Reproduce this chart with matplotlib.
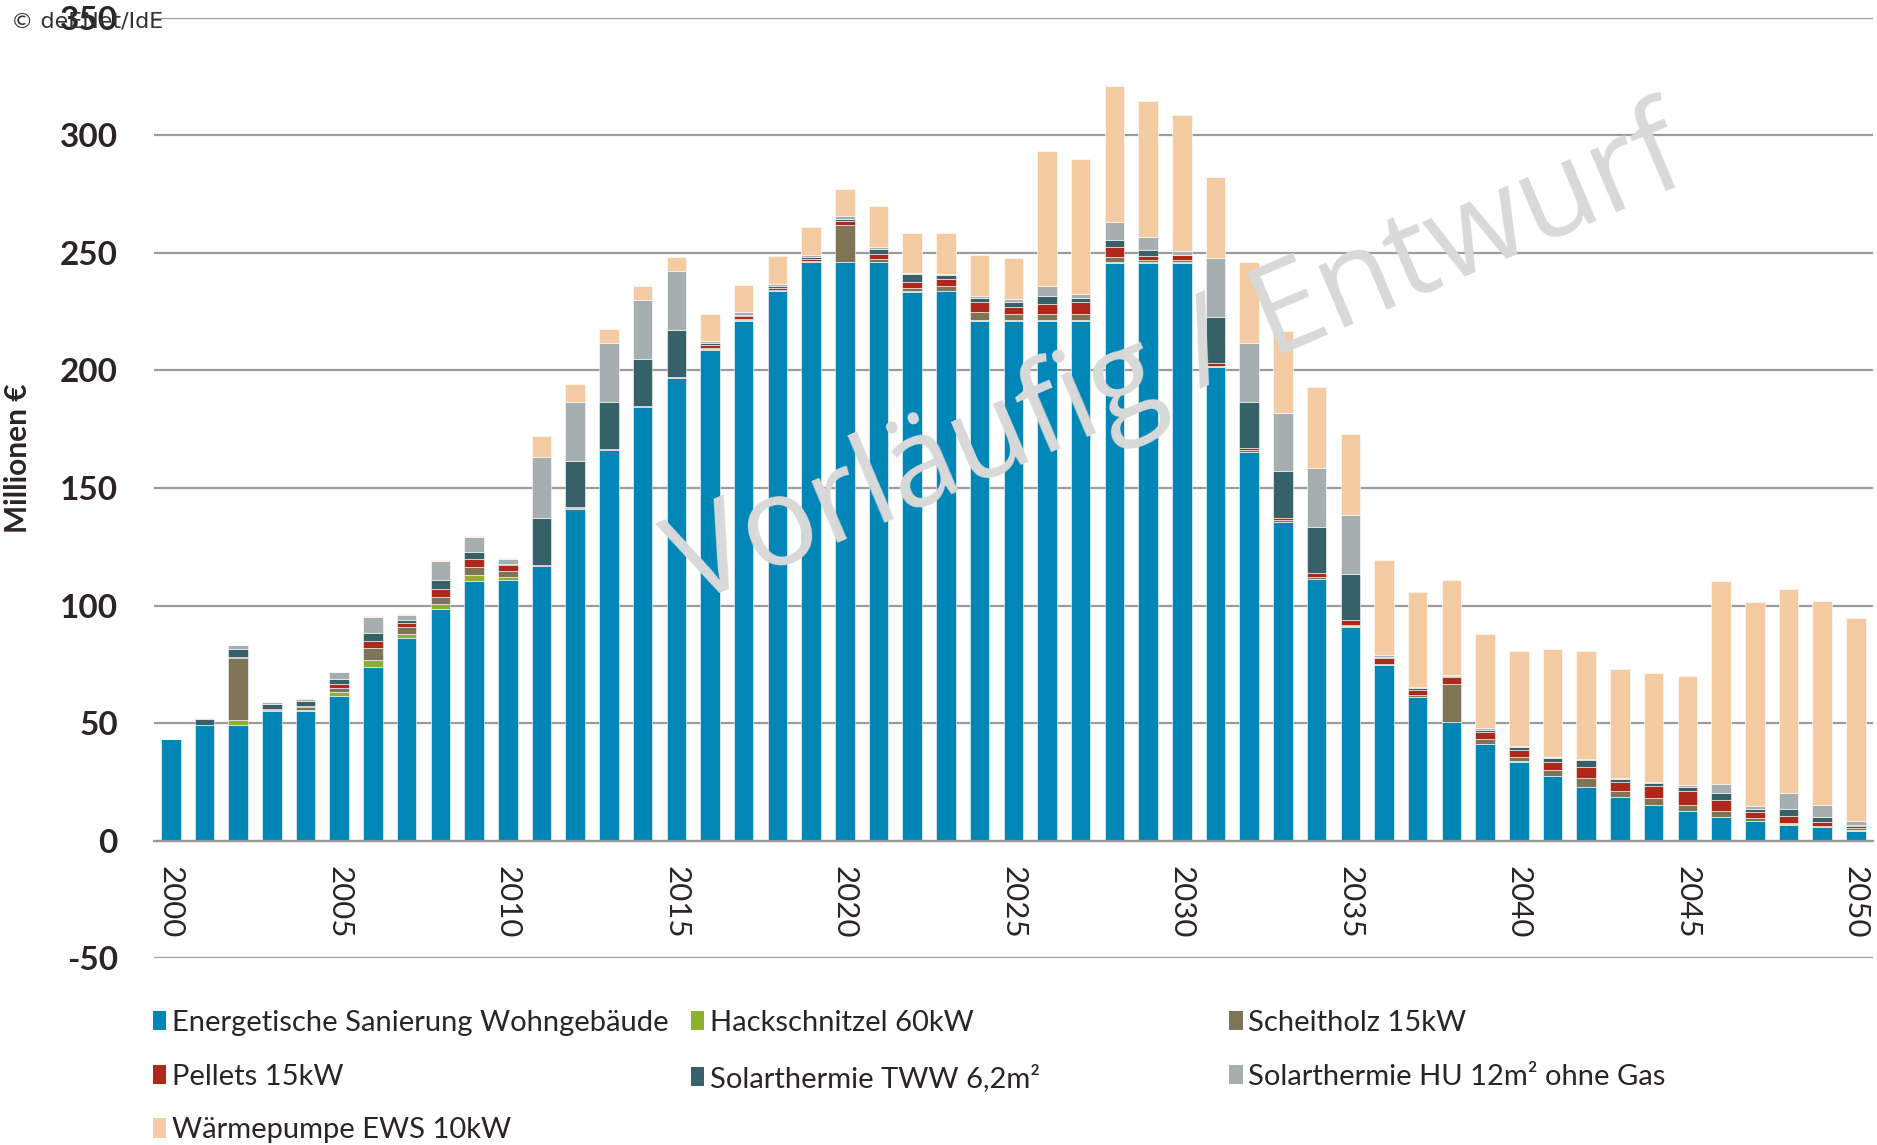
import matplotlib.pyplot as plt
import numpy as np
from matplotlib.patches import Patch

plt.rcParams["axes.unicode_minus"] = False

years = np.arange(2000, 2051)

sanierung = [43.0, 49.0, 49.0, 55.1, 55.1, 61.3, 73.7, 86.0, 98.3, 110.6,
             110.7, 116.7, 141.2, 166.0, 184.3, 196.8, 208.9, 221.2, 233.7, 246.0,
             246.1, 246.1, 233.5, 233.7, 221.1, 221.2, 221.2, 221.2, 245.9, 245.9,
             245.9, 201.6, 165.4, 135.6, 111.3, 91.0, 74.5, 61.0, 50.3, 41.0,
             33.6, 27.4, 22.8, 18.4, 15.0, 12.4, 10.1, 8.2, 6.8, 5.7,
             4.2]
hackschnitzel = [0.0, 0.0, 2.1, 0.0, 0.6, 1.7, 3.1, 2.0, 2.4, 2.4,
                 1.6, 0.0, 0.0, 0.0, 0.0, 0.0, 0.1, 0.1, 0.1, 0.1,
                 0.1, 0.2, 0.3, 0.2, 0.4, 0.3, 0.2, 0.2, 0.3, 0.1,
                 0.1, 0.1, 0.1, 0.1, 0.1, 0.1, 0.1, 0.1, 0.1, 0.1,
                 0.1, 0.1, 0.1, 0.1, 0.1, 0.1, 0.1, 0.1, 0.1, 0.1,
                 0.1]
scheitholz = [0.0, 0.2, 26.5, 0.6, 1.1, 2.1, 5.1, 3.0, 3.0, 3.4,
              2.4, 0.3, 0.3, 0.2, 0.2, 0.3, 0.7, 0.5, 0.3, 0.4,
              15.9, 1.1, 1.4, 2.1, 3.4, 2.4, 2.6, 2.8, 2.0, 0.9,
              0.9, 0.4, 0.5, 0.6, 0.7, 0.8, 0.7, 0.8, 16.4, 1.9,
              1.7, 2.6, 3.9, 2.5, 2.8, 2.8, 2.5, 1.4, 0.6, 0.5,
              0.9]
pellets = [0.0, 0.1, 0.7, 0.4, 0.4, 1.3, 3.1, 1.4, 3.3, 3.4,
           2.7, 0.3, 0.3, 0.2, 0.2, 0.3, 1.2, 1.2, 0.8, 1.0,
           1.4, 2.1, 2.4, 3.0, 4.4, 3.1, 4.5, 5.1, 4.3, 2.0,
           2.1, 1.0, 0.9, 1.0, 1.6, 2.0, 2.2, 2.0, 2.8, 3.3,
           3.3, 3.1, 4.6, 3.9, 5.4, 5.7, 4.6, 2.3, 2.9, 1.4,
           1.1]
solar_tww = [0.0, 2.4, 3.3, 1.8, 2.0, 2.4, 3.5, 1.3, 3.7, 2.8,
             0.2, 19.9, 19.9, 20.0, 20.2, 19.7, 0.7, 0.7, 1.0, 0.7,
             1.1, 2.3, 3.4, 1.6, 1.7, 2.0, 3.3, 1.4, 3.1, 2.4,
             0.3, 19.7, 19.9, 19.8, 19.7, 19.5, 0.8, 1.0, 0.3, 0.6,
             0.9, 1.7, 2.8, 1.4, 1.2, 1.7, 2.9, 1.2, 2.9, 2.5,
             0.3]
solar_hu = [0.0, 0.3, 1.4, 1.0, 1.1, 2.7, 6.8, 2.3, 8.4, 6.5,
            2.4, 25.9, 24.7, 25.3, 25.1, 25.1, 1.0, 1.0, 1.0, 1.0,
            1.0, 0.6, 0.3, 0.5, 0.7, 1.4, 4.1, 1.7, 7.4, 5.5,
            1.4, 25.1, 25.0, 24.9, 24.9, 25.1, 0.5, 0.4, 0.4, 0.8,
            0.6, 0.6, 0.5, 0.5, 0.6, 1.1, 3.9, 1.5, 7.1, 5.1,
            1.7]
waermepumpe = [0.0, 0.3, 0.3, 0.2, 0.4, 0.3, 0.4, 0.4, 0.4, 0.3,
               0.3, 8.9, 7.7, 5.9, 5.9, 6.1, 11.6, 11.6, 11.8, 11.7,
               11.6, 17.5, 17.3, 17.3, 17.4, 17.3, 57.6, 57.7, 57.9, 57.9,
               57.9, 34.5, 34.3, 34.6, 34.6, 34.5, 40.6, 40.6, 40.4, 40.3,
               40.6, 46.2, 46.1, 46.1, 46.2, 46.4, 86.5, 86.6, 86.8, 86.7,
               86.5]

series = [
    ("Energetische Sanierung Wohngebäude", sanierung, "#0086B7"),
    ("Hackschnitzel 60kW", hackschnitzel, "#8EB02D"),
    ("Scheitholz 15kW", scheitholz, "#7E7456"),
    ("Pellets 15kW", pellets, "#B0281A"),
    ("Solarthermie TWW 6,2m²", solar_tww, "#366169"),
    ("Solarthermie HU 12m² ohne Gas", solar_hu, "#A6AEB0"),
    ("Wärmepumpe EWS 10kW", waermepumpe, "#F4CBA3"),
]

text_col = "#2B2424"
grid_col = "#9B9B9B"
font = "Lato"

fig = plt.figure(figsize=(18.77, 11.45), dpi=100)
ax = fig.add_axes([0.082, 0.1633, 0.9157, 0.821])

bottom = np.zeros(len(years))
for name, vals, col in series:
    vals = np.array(vals)
    ax.bar(years, vals, width=0.58, bottom=bottom, color=col,
           edgecolor="white", linewidth=0.4, zorder=3)
    bottom += vals

ax.set_xlim(1999.5, 2050.5)
ax.set_ylim(-50, 350)
ax.set_yticks(np.arange(-50, 351, 50))
ax.yaxis.grid(True, color=grid_col, linewidth=1.6, zorder=1)
ax.set_axisbelow(True)
for side in ["left", "right", "top"]:
    ax.spines[side].set_visible(False)
ax.spines["bottom"].set_position(("data", 0))
ax.spines["bottom"].set_color(grid_col)
ax.spines["bottom"].set_linewidth(1.6)
ax.spines["bottom"].set_zorder(4)

ax.set_xticks(np.arange(2000, 2051, 5))
ax.set_xticklabels([str(y) for y in range(2000, 2051, 5)], rotation=270,
                   fontsize=22.5, family=font, color=text_col, va="top", ha="center")
ax.tick_params(axis="x", length=0, pad=18)
ax.tick_params(axis="y", length=0, pad=26)
for lab in ax.get_yticklabels():
    lab.set_fontsize(24)
    lab.set_fontweight("bold")
    lab.set_family(font)
    lab.set_color(text_col)

fig.text(0.0095, 0.600, "Millionen €", rotation=90, ha="center", va="center",
         fontsize=21.5, fontweight="bold", family=font, color=text_col)

fig.text(0.006, 0.981, "© deENet/IdE", ha="left", va="center",
         fontsize=16, family="DejaVu Sans", color="#333333")

fig.text(0.628, 0.683, "Vorläufig / Entwurf", rotation=23, ha="center",
         va="center", fontsize=90, family="Open Sans", color="#D9D9D9", zorder=10)

# legend laid out row by row in three columns
handles = [Patch(facecolor=c, edgecolor="none") for _, _, c in series]
names = [n for n, _, _ in series]
col_x = [0.0815, 0.368, 0.655]
for c in range(3):
    idx = list(range(c, len(series), 3))
    fig.legend([handles[i] for i in idx], [names[i] for i in idx],
               loc="upper left", bbox_to_anchor=(col_x[c], 0.118),
               frameon=False, borderpad=0, borderaxespad=0,
               handlelength=0.45, handleheight=0.65, handletextpad=0.2,
               labelspacing=0.95, prop={"family": font, "size": 21},
               labelcolor=text_col)

fig.savefig("out.png", dpi=100)
